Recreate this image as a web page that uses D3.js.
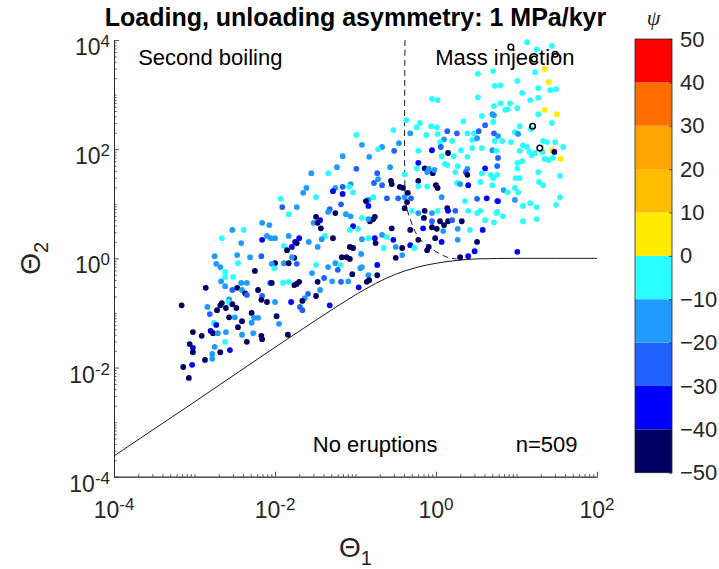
<!DOCTYPE html>
<html>
<head>
<meta charset="utf-8">
<script src="https://cdn.jsdelivr.net/npm/d3@7"></script>
<style>
  body { margin: 0; background: #fff; }
  text { font-family: "Liberation Sans", Arial, Helvetica, sans-serif; }
</style>
</head>
<body>
<div id="wrapper"></div>
<script>
// ---- data ----
const titleText = "Loading, unloading asymmetry: 1 MPa/kyr"
const xTickExponents = [-4, -2, 0, 2]
const yTickExponents = [-4, -2, 0, 2, 4]
const psiTicks = [-50, -40, -30, -20, -10, 0, 10, 20, 30, 40, 50]
const psiColors = ["#000062", "#0000ff", "#2062ff", "#1f9aff", "#2affff",
                   "#ffea00", "#ffbc00", "#ffa400", "#ff6c00", "#ff0000"]

// no-eruption boundary (solid), as log10 values
const boundaryLogTheta1 = [-4, -3, -2, -1.5, -1.25, -1, -0.75, -0.5, -0.25, 0, 0.25, 0.5, 1, 1.5, 2]
const boundaryLogTheta2 = [-3.62, -2.63, -1.63, -1.14, -0.9, -0.67, -0.46, -0.29, -0.17, -0.09, -0.04, -0.01, 0, 0, 0]

// second boiling / mass injection divide (dashed), as log10 values
const divideLogTheta1 = [-0.385, -0.385, -0.37, -0.33, -0.22, -0.07, 0.14, 0.26]
const divideLogTheta2 = [4, 1.25, 0.98, 0.76, 0.39, 0.19, 0.02, -0.01]

// runs: [log10 Θ1, log10 Θ2, ψ]
const runs = [
  [-2.16,0.65,-15],[-2.07,0.61,-15],[-2.53,0.52,-15],[-2.39,0.52,-5],[-2.66,0.37,-5],[-2.16,0.34,-35],[-2.10,0.41,-15],[-2.05,0.37,-15],
  [-2.00,0.37,-15],[-1.83,0.41,-15],[-2.42,0.28,-15],[-1.89,0.23,-5],[-1.79,0.21,-35],[-1.85,0.15,-45],[-2.75,0.04,-15],[-2.47,0.06,-15],
  [-2.31,0.02,-15],[-2.17,0.04,-25],[-2.46,-0.09,-5],[-2.73,-0.10,-15],[-2.68,-0.16,-15],[-2.62,-0.25,-5],[-2.00,-0.09,-45],[-2.04,-0.10,-15],
  [-1.89,-0.09,-15],[-1.83,-0.09,-45],[-2.01,-0.18,-5],[-2.25,-0.23,-45],[-2.62,-0.34,-5],[-2.52,-0.34,-5],[-2.67,-0.42,-15],[-2.62,-0.51,-15],
  [-2.86,-0.54,-45],[-2.47,-0.54,-45],[-2.42,-0.45,-15],[-2.35,-0.45,-15],[-2.41,-0.58,-15],[-2.21,-0.58,-45],[-2.37,-0.64,-45],[-2.35,-0.67,-25],
  [-2.53,-0.58,-25],[-2.06,-0.45,-25],[-2.04,-0.45,-45],[-1.90,-0.45,-5],[-1.83,-0.43,-5],[-1.76,-0.49,-45],[-2.57,-0.75,-15],[-2.58,-0.80,-5],
  [-2.66,-0.82,-45],[-2.61,-0.91,-45],[-2.53,-0.84,-45],[-2.48,-0.91,-45],[-2.16,-0.69,-25],[-2.17,-0.76,-45],[-2.10,-0.80,-45],[-2.00,-0.80,-15],
  [-1.80,-0.80,-35],[-3.16,-0.86,-45],[-2.84,-0.89,-15],[-2.68,-0.86,-45],[-2.72,-0.95,-45],[-2.81,-1.02,-25],[-2.57,-1.08,-45],[-2.50,-1.08,-15],
  [-2.29,-1.00,-45],[-2.26,-1.09,-15],[-2.21,-1.09,-15],[-1.98,-1.06,-45],[-2.41,-1.15,-45],[-2.29,-1.18,-15],[-2.76,-1.18,-5],[-2.73,-1.22,-35],
  [-2.46,-1.26,-45],[-1.95,-1.20,-15],[-2.80,-1.33,-35],[-2.77,-1.37,-45],[-2.71,-1.37,-15],[-2.61,-1.35,-15],[-3.02,-1.35,-45],[-2.91,-1.42,-45],
  [-2.41,-1.40,-15],[-2.27,-1.37,-15],[-2.17,-1.42,-45],[-2.16,-1.48,-45],[-1.84,-1.40,-45],[-2.62,-1.53,-5],[-2.35,-1.53,-45],[-3.06,-1.57,-45],
  [-3.02,-1.64,-35],[-3.02,-1.72,-45],[-2.75,-1.62,-15],[-2.68,-1.72,-45],[-2.56,-1.68,-35],[-2.78,-1.75,-15],[-2.87,-1.86,-45],[-2.78,-1.84,-15],
  [-3.03,-1.95,-35],[-3.14,-1.99,-45],[-3.07,-2.19,-45],
  [-1.93,1.09,-5],[-1.91,0.94,-25],[-1.83,0.81,-5],
  [-0.37,2.53,-5],[-0.53,2.35,-5],[-0.99,2.26,-5],[-0.32,2.29,-15],[-0.92,2.08,-15],[-0.46,2.11,-15],[-0.67,2.04,-15],[-0.72,2.00,-5],
  [-0.52,1.97,-25],[-1.16,1.87,-15],[-0.83,1.86,-15],[-1.23,1.67,-15],[-0.99,1.64,-25],[-0.57,1.67,-15],[-1.55,1.56,-15],[-1.34,1.56,-5],
  [-0.73,1.56,-25],[-0.39,1.54,-5],[-0.56,1.42,-45],[-0.72,1.45,-15],[-0.77,1.38,-25],[-0.67,1.34,-25],[-0.55,1.36,-45],[-0.45,1.31,-45],
  [-0.41,1.29,-45],[-1.06,1.36,-15],[-1.16,1.31,-25],[-1.08,1.31,-5],[-1.25,1.29,-15],[-1.28,1.23,-35],[-1.61,1.29,-15],[-1.65,1.20,-15],
  [-1.03,1.21,-5],[-1.16,1.18,-35],[-1.49,1.12,-5],[-0.78,1.12,-5],[-0.84,1.07,-15],[-0.87,1.05,-45],[-0.61,1.10,-25],[-0.47,1.10,-25],
  [-0.39,1.12,-15],[-0.36,1.03,-45],[-1.18,0.99,-25],[-0.84,0.96,-35],[-0.39,0.92,-45],[-1.73,0.94,-15],[-1.32,0.90,-25],[-1.34,0.85,-15],
  [-1.25,0.83,-45],[-1.12,0.81,-15],[-1.06,0.77,-15],[-0.76,0.76,-45],[-0.78,0.72,-45],[-0.82,0.68,-45],[-0.84,0.72,-15],[-0.92,0.74,-5],
  [-1.49,0.76,-45],[-1.44,0.70,-35],[-1.52,0.65,-15],[-1.47,0.65,-45],[-1.43,0.55,-45],[-1.03,0.59,-35],[-1.07,0.52,-5],[-0.97,0.54,-5],
  [-0.55,0.55,-45],[-0.32,0.52,-45],[-1.70,0.37,-35],[-1.38,0.41,-5],[-1.42,0.35,-15],[-1.28,0.37,-45],[-1.07,0.21,-45],[-1.03,0.19,-45],
  [-0.92,0.35,-15],[-0.84,0.37,-5],[-0.76,0.37,-35],[-0.67,0.43,-15],[-0.61,0.39,-5],[-0.53,0.34,-35],[-0.75,0.28,-45],[-0.65,0.19,-5],
  [-0.50,0.21,-15],[-0.42,0.19,-45],[-1.75,0.30,-35],[-1.73,0.28,-45],[-1.47,0.21,-15],[-1.58,0.30,-15],[-0.93,0.08,-15],[-0.50,0.01,-45],
  [-0.42,0.06,-15],[-1.73,-0.10,-25],[-1.76,0.01,-45],[-1.79,0.02,-15],[-1.49,-0.12,-5],[-1.34,-0.16,-15],[-1.25,-0.09,-15],[-1.19,-0.12,-5],
  [-1.17,0.02,-45],[-1.11,0.02,-45],[-1.07,-0.01,-45],[-1.22,-0.21,-25],[-1.04,-0.29,-45],[-0.94,-0.18,-15],[-0.92,-0.16,-15],[-0.73,-0.12,-35],
  [-1.54,-0.27,-15],[-0.84,-0.31,-15],[-0.73,-0.31,-45],[-0.86,-0.43,-45],[-0.83,-0.40,-45],[-1.70,-0.43,-45],[-1.73,-0.47,-45],[-1.47,-0.43,-45],
  [-1.39,-0.36,-25],[-1.29,-0.42,-15],[-1.18,-0.43,-25],[-1.09,-0.42,-15],[-0.96,-0.53,-35],[-1.44,-0.58,-15],[-1.59,-0.65,-25],[-1.63,-0.73,-15],
  [-1.49,-0.69,-45],[-1.66,-0.78,-45],[-1.69,-0.89,-25],[-1.66,-0.95,-25],[-1.32,-0.86,-35],
  [0.52,3.38,-5],[0.71,3.43,-5],[0.73,3.16,-5],[-0.05,2.92,-5],[0.02,2.90,-5],[0.52,2.95,-5],[0.72,2.79,-5],[0.70,2.64,-15],
  [0.72,2.62,-15],[0.57,2.61,-5],[0.34,2.51,-5],[0.71,2.50,-5],[0.61,2.44,-25],[-0.20,2.48,-5],[-0.24,2.40,-5],[-0.06,2.42,-5],
  [0.01,2.40,-5],[-0.12,2.26,-5],[0.02,2.28,-5],[0.14,2.33,-25],[0.26,2.29,-25],[0.39,2.29,-5],[0.47,2.29,-5],[0.53,2.33,-25],
  [0.72,2.29,-25],[0.10,2.18,-15],[0.05,2.13,-5],[0.20,2.15,-5],[0.45,2.17,-5],[0.51,2.20,-15],[0.73,2.15,-5],[0.06,2.04,-25],
  [-0.05,1.98,-35],[-0.22,1.97,-5],[0.15,1.93,-45],[0.31,1.98,-5],[0.45,2.02,-5],[0.57,2.02,-5],[0.70,1.98,-15],[0.75,1.97,-5],
  [0.07,1.87,-5],[0.22,1.87,-5],[0.39,1.86,-5],[-0.22,1.75,-35],[-0.24,1.65,-5],[-0.14,1.65,-45],[-0.09,1.64,-15],[0.11,1.73,-5],
  [0.14,1.71,-5],[0.27,1.69,-5],[0.39,1.64,-15],[0.61,1.65,-35],[0.76,1.69,-25],[-0.11,1.58,-15],[-0.04,1.56,-45],[-0.02,1.62,-15],
  [0.24,1.58,-5],[0.37,1.58,-25],[0.39,1.53,-45],[0.57,1.56,-5],[0.68,1.53,-5],[0.71,1.47,-5],[-0.22,1.42,-45],[-0.22,1.32,-5],
  [-0.11,1.32,-5],[0.00,1.34,-45],[0.02,1.29,-45],[0.26,1.38,-5],[0.30,1.36,-15],[0.40,1.34,-35],[0.55,1.40,-5],[0.70,1.34,-5],
  [-0.35,1.20,-45],[-0.31,1.10,-25],[0.07,1.12,-15],[0.36,1.05,-5],[0.51,1.09,-25],[0.63,1.10,-35],[0.76,1.05,-25],[-0.30,0.87,-5],
  [-0.22,0.83,-15],[-0.14,0.87,-45],[-0.05,0.83,-15],[0.02,0.87,-5],[0.14,0.92,-45],[0.15,0.87,-35],[0.24,0.87,-25],[0.40,0.87,-5],
  [0.51,0.83,-5],[0.55,0.87,-5],[0.75,0.83,-5],[-0.15,0.74,-45],[-0.05,0.68,-25],[0.05,0.68,-45],[0.15,0.68,-45],[0.10,0.61,-45],
  [0.20,0.70,-25],[0.32,0.68,-45],[0.61,0.70,-5],[0.72,0.66,-5],[-0.16,0.55,-35],[-0.05,0.57,-45],[0.01,0.54,-45],[0.09,0.50,-15],
  [0.27,0.54,-15],[0.42,0.52,-5],[0.58,0.52,-35],[-0.22,0.34,-45],[-0.32,0.24,-35],[-0.01,0.37,-45],[0.07,0.30,-35],[0.27,0.34,-15],
  [0.51,0.30,-45],[-0.27,0.19,-5],[-0.11,0.15,-45],[-0.09,0.21,-45],[0.48,0.13,-35],[0.30,0.02,-45],[0.40,0.04,-35],
  [1.13,3.96,-5],[1.25,3.83,-5],[1.44,3.89,-5],[1.35,3.47,5],[1.23,3.41,-5],[1.40,3.23,5],[1.42,3.08,-5],[1.49,3.10,-5],
  [1.27,3.12,-5],[1.01,3.25,-5],[0.80,3.17,-5],[1.07,3.03,-5],[1.17,2.90,-5],[1.27,2.94,-5],[0.80,2.84,-5],[0.92,2.84,-5],
  [0.86,2.72,-5],[0.89,2.73,-5],[1.01,2.75,-5],[1.35,2.72,5],[1.50,2.64,5],[1.27,2.64,-5],[1.44,2.48,-5],[1.04,2.42,-5],
  [1.18,2.37,-5],[0.98,2.31,-5],[1.02,2.28,-15],[0.77,2.24,-15],[0.82,2.15,-5],[0.93,2.13,-5],[1.33,2.15,-5],[1.38,2.13,-5],
  [1.48,2.13,-5],[1.58,2.04,-5],[1.08,2.07,-5],[1.13,2.04,-5],[1.44,1.98,5],[1.47,1.95,-45],[1.04,1.97,-5],[1.16,1.95,-5],
  [1.19,1.89,-5],[1.23,1.93,-5],[1.32,1.95,-5],[1.35,1.82,-5],[1.40,1.80,-5],[1.45,1.84,-5],[1.55,1.82,5],[1.07,1.78,-5],
  [1.01,1.75,-5],[0.77,1.84,-25],[1.01,1.65,-5],[1.27,1.58,-5],[1.54,1.51,-5],[0.99,1.47,-5],[1.04,1.47,-5],[1.28,1.40,-5],
  [1.33,1.34,-5],[0.76,1.53,-5],[0.84,1.25,-15],[0.89,1.21,-5],[0.98,1.29,-5],[1.02,1.21,-5],[1.54,1.12,-5],[0.77,1.05,-35],
  [0.98,1.07,-15],[1.17,1.01,-5],[1.08,0.96,-5],[1.25,0.94,-5],[1.49,0.98,-5],[0.76,0.85,-5],[0.83,0.77,-5],[1.08,0.68,-5],
  [1.25,0.72,-5],[1.01,0.12,-35]
]

// runs shown as open black circles, [log10 Θ1, log10 Θ2]
const openRuns = [[0.93, 3.87], [1.22, 3.65], [1.48, 3.74], [1.20, 2.42], [1.29, 2.02]]

const regimeLabels = [
  { text: "Second boiling", t1: -3.70, t2: 3.55 },
  { text: "Mass injection", t1: -0.01, t2: 3.55 },
  { text: "No eruptions", t1: -1.53, t2: -3.55 },
  { text: "n=509", t1: 0.99, t2: -3.55 },
]

function drawChart() {
    const dimensions = {
        width: 719,
        height: 569,
        left: 114, right: 597, top: 40, bottom: 476.7,
        barLeft: 635, barRight: 672, barTop: 39, barBottom: 472.7,
    }
    const axisColor = "#262626"

    const svg = d3.select("#wrapper")
        .append("svg")
        .attr("width", dimensions.width)
        .attr("height", dimensions.height)

    const xScale = d3.scaleLog().domain([1e-4, 1e2]).range([dimensions.left, dimensions.right])
    const yScale = d3.scaleLog().domain([1e-4, 1e4]).range([dimensions.bottom, dimensions.top])
    const colorScale = d3.scaleThreshold().domain(psiTicks.slice(1, -1)).range(psiColors)
    const pow = e => Math.pow(10, e)

    // minor ticks: 2..9 of every decade, plus unlabeled decades
    const minorTicks = (lo, hi, labeled) => {
        const out = []
        for (let e = lo; e < hi; e++) {
            if (!labeled.includes(e)) out.push(pow(e))
            for (let m = 2; m <= 9; m++) out.push(m * pow(e))
        }
        if (!labeled.includes(hi)) out.push(pow(hi))
        return out
    }

    // x axis
    svg.append("g")
        .attr("transform", `translate(0,${dimensions.bottom})`)
        .call(d3.axisBottom(xScale).tickValues(minorTicks(-4, 2, xTickExponents)).tickSize(-2.5).tickSizeOuter(0).tickFormat(""))
    svg.append("g")
        .attr("transform", `translate(0,${dimensions.bottom})`)
        .call(d3.axisBottom(xScale).tickValues(xTickExponents.map(pow)).tickSize(-5).tickSizeOuter(0).tickFormat(""))

    // y axis
    svg.append("g")
        .attr("transform", `translate(${dimensions.left},0)`)
        .call(d3.axisLeft(yScale).tickValues(minorTicks(-4, 4, yTickExponents)).tickSize(-2.5).tickSizeOuter(0).tickFormat(""))
    svg.append("g")
        .attr("transform", `translate(${dimensions.left},0)`)
        .call(d3.axisLeft(yScale).tickValues(yTickExponents.map(pow)).tickSize(-5).tickSizeOuter(0).tickFormat(""))

    svg.selectAll(".domain, .tick line")
        .attr("stroke", axisColor)
        .attr("stroke-width", 0.8)

    // power-of-ten tick labels
    const powerLabel = (sel) => {
        sel.append("tspan").text("10")
        sel.append("tspan").attr("dy", -8).style("font-size", "17px").text(d => d)
    }
    svg.append("g").selectAll("text")
        .data(xTickExponents)
        .join("text")
        .attr("x", d => xScale(pow(d)))
        .attr("y", dimensions.bottom + 41)
        .attr("text-anchor", "middle")
        .attr("fill", axisColor)
        .style("font-size", "23px")
        .call(powerLabel)
    svg.append("g").selectAll("text")
        .data(yTickExponents)
        .join("text")
        .attr("x", dimensions.left - 4)
        .attr("y", d => yScale(pow(d)) + 15)
        .attr("text-anchor", "end")
        .attr("fill", axisColor)
        .style("font-size", "23px")
        .call(powerLabel)

    // axis labels
    const xLabel = svg.append("text")
        .attr("x", (dimensions.left + dimensions.right) / 2)
        .attr("y", 557)
        .attr("text-anchor", "middle")
        .attr("fill", axisColor)
        .style("font-size", "28px")
    xLabel.append("tspan").text("Θ")
    xLabel.append("tspan").attr("dy", 8).style("font-size", "20px").text("1")

    const yLabel = svg.append("text")
        .attr("transform", `translate(40,${(dimensions.top + dimensions.bottom) / 2}) rotate(-90)`)
        .attr("text-anchor", "middle")
        .attr("fill", axisColor)
        .style("font-size", "28px")
    yLabel.append("tspan").text("Θ")
    yLabel.append("tspan").attr("dy", 8).style("font-size", "20px").text("2")

    // title
    svg.append("text")
        .attr("x", (dimensions.left + dimensions.right) / 2)
        .attr("y", 26)
        .attr("text-anchor", "middle")
        .style("font-size", "25px")
        .style("font-weight", "bold")
        .text(titleText)

    // boundary curves
    const line = d3.line()
        .x(d => xScale(pow(d[0])))
        .y(d => yScale(pow(d[1])))
        .curve(d3.curveMonotoneX)
    svg.append("path")
        .datum(d3.zip(boundaryLogTheta1, boundaryLogTheta2))
        .attr("d", line)
        .attr("fill", "none")
        .attr("stroke", "#000")
        .attr("stroke-width", 0.9)

    const dashLine = d3.line()
        .x(d => xScale(pow(d[0])))
        .y(d => yScale(pow(d[1])))
        .curve(d3.curveCatmullRom)
    svg.append("path")
        .datum(d3.zip(divideLogTheta1, divideLogTheta2))
        .attr("d", dashLine)
        .attr("fill", "none")
        .attr("stroke", "#000")
        .attr("stroke-width", 0.9)
        .attr("stroke-dasharray", "6,4")

    // scatter of runs coloured by ψ
    svg.append("g").selectAll("circle")
        .data(runs)
        .join("circle")
        .attr("cx", d => xScale(pow(d[0])))
        .attr("cy", d => yScale(pow(d[1])))
        .attr("r", 2.9)
        .attr("fill", d => colorScale(d[2]))

    // regime annotations
    svg.append("g").selectAll("text")
        .data(regimeLabels)
        .join("text")
        .attr("x", d => xScale(pow(d.t1)))
        .attr("y", d => yScale(pow(d.t2)))
        .style("font-size", "22px")
        .attr("fill", "#000")
        .text(d => d.text)

    svg.append("g").selectAll("circle")
        .data(openRuns)
        .join("circle")
        .attr("cx", d => xScale(pow(d[0])))
        .attr("cy", d => yScale(pow(d[1])))
        .attr("r", 2.8)
        .attr("fill", "none")
        .attr("stroke", "#000")
        .attr("stroke-width", 1.5)

    // colorbar
    const psiScale = d3.scaleLinear().domain([-50, 50]).range([dimensions.barBottom, dimensions.barTop])
    const barWidth = dimensions.barRight - dimensions.barLeft
    svg.append("g").selectAll("rect")
        .data(psiColors)
        .join("rect")
        .attr("x", dimensions.barLeft)
        .attr("y", (d, i) => psiScale(psiTicks[i + 1]))
        .attr("width", barWidth)
        .attr("height", (d, i) => psiScale(psiTicks[i]) - psiScale(psiTicks[i + 1]))
        .attr("fill", d => d)

    const barAxis = svg.append("g")
        .attr("transform", `translate(${dimensions.barRight},0)`)
        .call(d3.axisRight(psiScale).tickValues(psiTicks).tickSize(-3).tickSizeOuter(0).tickPadding(8))
    barAxis.selectAll(".tick line").attr("stroke", axisColor).attr("stroke-width", 0.8)
    barAxis.select(".domain").remove()
    barAxis.selectAll(".tick text")
        .attr("fill", axisColor)
        .style("font-size", "22px")
        .style("font-family", "'Liberation Sans', Arial, sans-serif")

    svg.append("rect")
        .attr("x", dimensions.barLeft)
        .attr("y", dimensions.barTop)
        .attr("width", barWidth)
        .attr("height", dimensions.barBottom - dimensions.barTop)
        .attr("fill", "none")
        .attr("stroke", axisColor)
        .attr("stroke-width", 0.8)

    svg.append("text")
        .attr("x", (dimensions.barLeft + dimensions.barRight) / 2)
        .attr("y", 25)
        .attr("text-anchor", "middle")
        .attr("fill", axisColor)
        .style("font-family", "'Liberation Serif', 'DejaVu Serif', serif")
        .style("font-style", "italic")
        .style("font-size", "22px")
        .text("ψ")
}

drawChart()
</script>
</body>
</html>
